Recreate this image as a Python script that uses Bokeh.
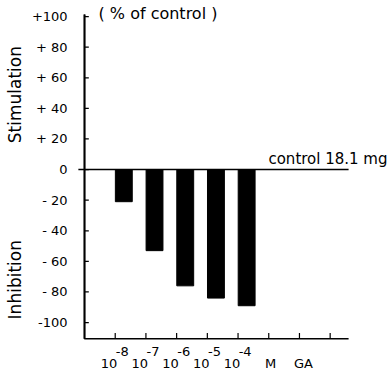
from bokeh.plotting import figure
from bokeh.models import Range1d, Label, BoxAnnotation
from bokeh.core.properties import value
from bokeh.embed import file_html
from bokeh.resources import INLINE

# data
exponents = ["-8", "-7", "-6", "-5", "-4"]
positions = [1, 2, 3, 4, 5]
values = [-21, -53, -76, -84, -89]
y_ticks = [-100, -80, -60, -40, -20, 0, 20, 40, 60, 80, 100]
y_tick_labels = ["-100", "- 80", "- 60", "- 40", "- 20", "0", "+ 20", "+ 40", "+ 60", "+ 80", "+100"]
x_ticks = [1, 2, 3, 4, 5, 6, 7, 8]
y_bottom, y_top = -110.5, 101.3
x_end = 8.6

FONT = "DejaVu Sans"

p = figure(width=392, height=375, x_range=Range1d(-2.736, 10.03), y_range=Range1d(-134.6, 110.5),
           output_backend="svg", toolbar_location=None,
           x_axis_location=None, y_axis_location=None,
           min_border_left=0, min_border_right=0, min_border_top=0, min_border_bottom=0)
p.outline_line_color = None
p.grid.visible = False
p.background_fill_color = "white"
p.border_fill_color = "white"

p.vbar(x=[x + 0.28 for x in positions], top=0, bottom=values, width=0.55, color="black")

# bottom axis line and its inward ticks
p.line(x=[x_end, 0, 0], y=[y_bottom, y_bottom, y_top], line_color="black", line_width=1.5)
p.segment(x0=x_ticks, y0=[y_bottom] * len(x_ticks), x1=x_ticks, y1=[y_bottom + 3.6] * len(x_ticks),
          line_color="black", line_width=1.2)
# zero (control) line
p.segment(x0=[-0.2], y0=[0], x1=[x_end], y1=[0], line_color="black", line_width=1.5)

# left axis line and inward ticks as overlay boxes
p.add_layout(BoxAnnotation(left=-0.03, right=0.03, bottom=y_bottom, top=y_top,
                           fill_color="black", fill_alpha=1.0, line_color=None, level="overlay",
                           editable=False))
for t in y_ticks:
    p.add_layout(BoxAnnotation(left=0, right=0.14, bottom=t - 0.4, top=t + 0.4,
                               fill_color="black", fill_alpha=1.0, line_color=None, level="overlay",
                               editable=False))

# y tick labels
p.text(x=[-0.55] * len(y_ticks), y=y_ticks, text=y_tick_labels, text_font=value(FONT),
       text_font_size="13px", text_align="right", text_baseline="middle", text_color="black")

def lab(x, y, text, size="13px", align="left", baseline="middle", angle=0):
    p.add_layout(Label(x=x, y=y, text=text, text_font=FONT, text_font_size=size,
                       text_align=align, text_baseline=baseline, angle=angle, text_color="black"))

for pos, e in zip(positions, exponents):
    lab(pos - 0.2, -127, "10", align="center")
    lab(pos + 0.02, -119, e, align="left")
lab(6.06, -127, "M", align="center")
lab(7.13, -127, "GA", align="center")

lab(-2.28, 49, "Stimulation", size="17px", align="center", angle=1.5708)
lab(-2.28, -72, "Inhibition", size="17px", align="center", angle=1.5708)
lab(0.456, 102, "(  %  of  control  )", size="16px")
lab(5.99, 7.2, "control 18.1 mg", size="15px")

open("out.html", "w").write(file_html(p, INLINE))
